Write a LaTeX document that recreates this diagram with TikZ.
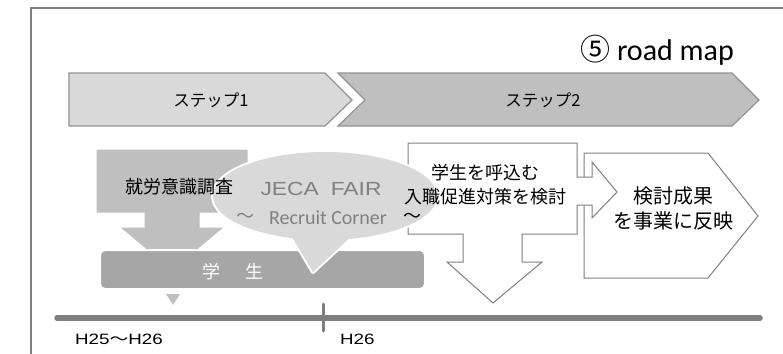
\documentclass[tikz,border=0pt]{standalone}
\usepackage{fontspec}
\usepackage{graphicx}
\setmainfont{Liberation Sans}
\newfontfamily\jpfont{Noto Sans CJK JP}
\newfontfamily\califont{Carlito}
\usetikzlibrary{positioning}
\definecolor{lightgr}{HTML}{D9D9D9}
\definecolor{midgr}{HTML}{BFBFBF}
\definecolor{darkgr}{HTML}{A6A6A6}
\definecolor{linegr}{HTML}{7F7F7F}
\definecolor{textgr}{HTML}{808080}
\tikzstyle{frame} = [draw=linegr, line width=2pt]
\tikzstyle{stepbox} = [draw=linegr!85, line width=1.2pt]
\tikzstyle{block} = [fill=midgr, draw=white, line width=1pt]
\tikzstyle{outline} = [draw=linegr, fill=white, line width=1pt, line join=miter]
\tikzstyle{jptext} = [font=\jpfont\fontsize{18}{24}\selectfont, align=center, inner sep=0pt]
\tikzstyle{timeline} = [draw=linegr, line width=5.5pt, line cap=round]

\begin{document}
\begin{tikzpicture}[x=1pt, y=-1pt]
\useasboundingbox (0,0) rectangle (783,353);
\draw[frame] (31,354) -- (31,8) -- (784,8);

% steps
\draw[stepbox, fill=lightgr] (69,73) -- (325,73) -- (352,100) -- (325,126) -- (69,126) -- cycle;
\draw[stepbox, fill=midgr] (338,73) -- (732,73) -- (759,100) -- (732,126) -- (338,126) -- (365,100) -- cycle;
\node (step1) [jptext, font=\jpfont\fontsize{16.5}{20}\selectfont] at (211,100) {ステップ1};
\node (step2) [jptext, font=\jpfont\fontsize{16.5}{20}\selectfont] at (543,100) {ステップ2};
\node (title) [anchor=base east, inner sep=0pt] at (734,60) {{\jpfont\fontsize{30}{34}\selectfont ⑤}\hspace{7pt}{\califont\fontsize{30}{34}\selectfont road map}};

% survey arrow and students
\draw[block] (96,149) -- (248,149) -- (248,213) -- (200,213) -- (200,227) -- (225,227) -- (172,271) -- (119,227) -- (144,227) -- (144,213) -- (96,213) -- cycle;
\draw[block, line width=2pt, fill=darkgr, rounded corners=5pt] (100,250) rectangle (425,289);
\fill[midgr] (166,294) -- (180,294) -- (173,305) -- cycle;

% plan and result
\draw[outline] (584,153) -- (708,153) -- (758,216) -- (708,278) -- (584,278) -- cycle;
\draw[outline] (408,143) -- (577,143) -- (577,177) -- (592,177) -- (592,162) -- (617,192) -- (592,218) -- (592,205) -- (577,205) -- (577,234) -- (522,234) -- (522,262) -- (542,262) -- (493,303) -- (447,262) -- (463,262) -- (463,234) -- (408,234) -- cycle;

% fair callout
\draw[white, line width=4pt] (325,196) ellipse [x radius=112, y radius=44];
\draw[white, line width=4pt, line join=round] (289,232) -- (313,272) -- (356,232);
\fill[lightgr] (325,196) ellipse [x radius=112, y radius=44];
\fill[lightgr] (289,232) -- (313,272) -- (356,232) -- cycle;

\node (survey) [jptext] at (179,187) {就労意識調査};
\node (student) [jptext, text=white] at (233,272) {学\hspace{26pt}生};
\node (fair) [inner sep=0pt, text=textgr, font=\fontsize{19}{22}\selectfont] at (321,189) {\scalebox{1.2}[1]{JECA\hspace{10pt}FAIR}};
\node (corner) [inner sep=0pt, text=textgr, font=\califont\fontsize{20}{24}\selectfont] at (328,218) {Recruit Corner};
\node (tilde1) [left=14pt of corner, inner sep=0pt, text=textgr, font=\jpfont\fontsize{18}{22}\selectfont] {～};
\node (tilde2) [right=16pt of corner, inner sep=0pt, text=black, font=\jpfont\fontsize{18}{22}\selectfont] {～};
\node (plan) [jptext] at (485,185) {学生を呼込む\\入職促進対策を検討};
\node (result) [jptext, font=\jpfont\fontsize{20}{25}\selectfont] at (673,208) {検討成果\\を事業に反映};

% timeline
\draw[timeline] (57,318) -- (760,318);
\draw[draw=linegr, line width=3pt, line cap=round] (323,304) -- (323,331);
\node (from) [anchor=west, inner sep=0pt] at (75,339) {\fontsize{15}{17}\selectfont\scalebox{1.25}[1]{H25{\jpfont ～}H26}};
\node (to) [anchor=west, inner sep=0pt] at (340,339) {\fontsize{15}{17}\selectfont\scalebox{1.25}[1]{H26}};
\end{tikzpicture}
\end{document}
